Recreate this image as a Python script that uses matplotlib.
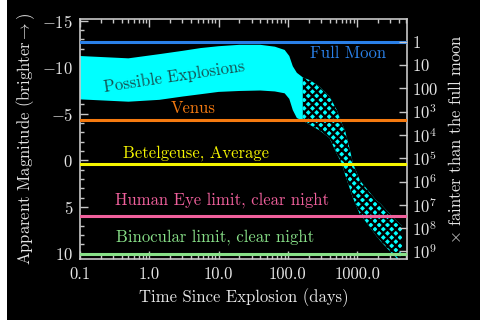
#!/usr/bin/env python3
"""Supernova brightness vs time, compared with familiar sky objects."""

import matplotlib

matplotlib.use("Agg")
import matplotlib.pyplot as plt
import numpy as np
from matplotlib.patches import Rectangle
from matplotlib.ticker import FixedLocator, NullFormatter, LogLocator

# reference objects (apparent magnitude)
ref_names = ["Full Moon", "Venus", "Betelgeuse, Average",
             "Human Eye limit, clear night", "Binocular limit, clear night"]
ref_mags = [-12.74, -4.3, 0.4, 6.0, 10.0]

# early light curve envelope (solid band)
early_days = [0.1, 0.5, 1.4, 3, 5.5, 10, 20, 40, 65, 90, 105, 118, 135, 165]
early_bright = [-11.2, -10.95, -11.4, -11.75, -12.05, -12.25, -12.4, -12.4,
                -12.2, -11.85, -11.2, -10.1, -9.4, -8.9]
early_faint = [-6.55, -6.3, -6.5, -6.85, -7.1, -7.35, -7.45, -7.5,
               -7.4, -7.2, -6.6, -5.4, -4.55, -4.25]

# late light curve envelope (hatched band)
late_days = [165, 210, 290, 400, 510, 600, 670, 790, 870, 1100, 1200,
             1900, 2150, 3300, 3750, 4450]
late_bright = [-8.9, -8.6, -7.9, -6.85, -5.4, -4.0, -3.2, -1.1, 0.3, 2.15,
               2.5, 4.3, 4.6, 6.1, 6.5, 7.0]
late_faint = [-4.25, -3.8, -3.2, -2.4, -0.7, 0.3, 1.5, 3.1, 4.0, 5.8,
              6.1, 8.1, 8.6, 10.1, 10.5, 11.2]

x_ticks = [0.1, 1.0, 10.0, 100.0, 1000.0]
x_labels = ["0.1", "1.0", "10.0", "100.0", "1000.0"]
y_ticks = [-15, -10, -5, 0, 5, 10]
moon_ratio_labels = ["$1$", "$10$", "$100$", "$10^3$", "$10^4$", "$10^5$",
                     "$10^6$", "$10^7$", "$10^8$", "$10^9$"]

plt.rcParams["font.family"] = "serif"
plt.rcParams["font.serif"] = ["cmr10"]
plt.rcParams["mathtext.fontset"] = "cm"
plt.rcParams["axes.formatter.use_mathtext"] = True
plt.rcParams["hatch.linewidth"] = 1.7

fg = "#e6e6e6"
spine = "#c8c8c8"
line_colors = ["#2a80e8", "#f57a10", "#f5f500", "#f0609c", "#88e088"]

fig = plt.figure(figsize=(4.8, 3.2), dpi=100, facecolor="black")
ax = fig.add_axes([80 / 480, 1 - 259.3 / 320, 326.7 / 480, 240.6 / 320])
ax.set_facecolor("black")
ax.set_xscale("log")
ax.set_xlim(0.1, 5200)
ax.set_ylim(10.6, -15.2)

ax.fill_between(early_days, early_bright, early_faint, facecolor="#00ffff",
                edgecolor="none", linewidth=0, zorder=2)
ax.fill_between(late_days, late_bright, late_faint, facecolor="#00ffff",
                edgecolor="black", hatch="xxxx", linewidth=0, zorder=2)

for mag, color in zip(ref_mags, line_colors):
    ax.axhline(mag, color=color, linewidth=2.2, zorder=3)

ax.text(736, -11.5, ref_names[0], color=line_colors[0], fontsize=12, ha="center", va="center", zorder=4)
ax.text(4.3, -5.6, ref_names[1], color=line_colors[1], fontsize=12, ha="center", va="center", zorder=4)
ax.text(4.8, -0.8, ref_names[2], color=line_colors[2], fontsize=12, ha="center", va="center", zorder=4)
ax.text(11.4, 4.3, ref_names[3], color=line_colors[3], fontsize=12, ha="center", va="center", zorder=4)
ax.text(8.9, 8.25, ref_names[4], color=line_colors[4], fontsize=12, ha="center", va="center", zorder=4)
ax.text(2.3, -9.0, "Possible Explosions", color="#155050", fontsize=12,
        rotation=8.5, ha="center", va="center", rotation_mode="anchor", zorder=4)

ax.set_xticks(x_ticks, x_labels)
ax.xaxis.set_minor_locator(LogLocator(base=10, subs=np.arange(2, 10)))
ax.xaxis.set_minor_formatter(NullFormatter())
ax.set_yticks(y_ticks, [f"${v}$" for v in y_ticks])
ax.yaxis.set_minor_locator(FixedLocator(np.arange(-15, 11)))
ax.tick_params(which="both", direction="in", top=True, right=False,
               colors=spine, labelcolor=fg, labelsize=12, width=1)
ax.tick_params(which="major", length=6, pad=5)
ax.tick_params(which="minor", length=3)
for s in ax.spines.values():
    s.set_color(spine)
    s.set_linewidth(1.2)

ax.set_xlabel("Time Since Explosion (days)", color=fg, fontsize=12, labelpad=5)
ax.set_ylabel("Apparent Magnitude (brighter$\\rightarrow$)", color=fg, fontsize=12, labelpad=4)

ax2 = ax.twinx()
ax2.set_ylim(ax.get_ylim())
ax2.set_yticks([ref_mags[0] + 2.5 * k for k in range(len(moon_ratio_labels))], moon_ratio_labels)
ax2.tick_params(direction="in", length=6, width=1, colors=spine, labelcolor=fg,
                labelsize=12, pad=4)
for s in ax2.spines.values():
    s.set_visible(False)
ax2.set_ylabel("$\\times$ fainter than the full moon", color=fg, fontsize=12, labelpad=6)

fig.add_artist(Rectangle((0, 0), 7 / 480, 1, transform=fig.transFigure,
                         facecolor="white", edgecolor="none"))

fig.savefig("out.png", dpi=100, facecolor="black")
